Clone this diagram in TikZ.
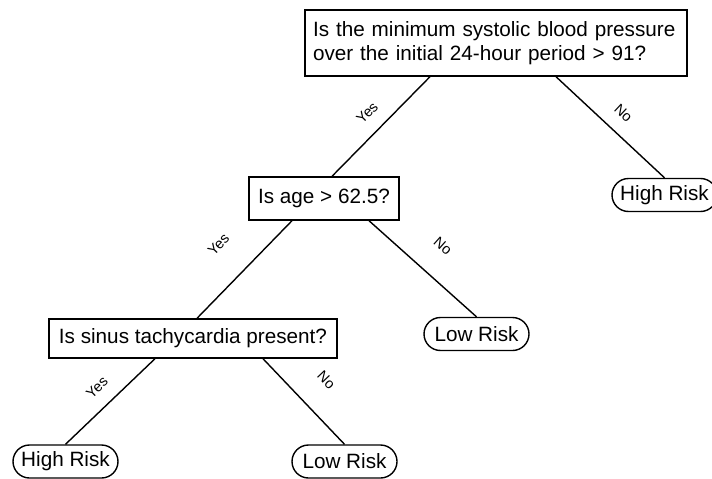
\documentclass[tikz,border=0pt]{standalone}
\usepackage{fontspec}
\setmainfont{Liberation Sans}
\usetikzlibrary{shapes.misc}
\begin{document}
\begin{tikzpicture}[x=1pt,y=-1pt,
  qbox/.style={draw, line width=1.4pt, rectangle, font=\fontsize{20.7}{24.5}\selectfont, inner sep=0pt},
  leaf/.style={draw, line width=1.4pt, rounded rectangle, minimum width=105pt, minimum height=33pt, inner sep=0pt, font=\fontsize{20.7}{24.5}\selectfont},
  edge/.style={line width=1.4pt},
  lbl/.style={font=\fontsize{14.5}{16}\selectfont, sloped, pos=0.5, above=13.5pt, inner sep=0pt}
]
\useasboundingbox (0,0) rectangle (712,479);
\clip (0,0) rectangle (712,479);
\node[qbox, text width=366pt, align=left, minimum width=382pt, minimum height=66pt, inner xsep=8pt] (root) at (496,43)
  {Is the minimum systolic blood pressure\\over the initial 24-hour period > 91?};
\node[qbox, minimum width=150pt, minimum height=43pt] (age) at (324,198.5) {Is age > 62.5?};
\node[qbox, minimum width=288pt, minimum height=39pt] (sinus) at (193,338.5) {Is sinus tachycardia present?};
\node[leaf] (hr1) at (664.5,195) {High Risk};
\node[leaf] (lr1) at (476.5,334) {Low Risk};
\node[leaf] (hr2) at (65.5,461.5) {High Risk};
\node[leaf] (lr2) at (344.5,461.5) {Low Risk};

\draw[edge] ([xshift=-66pt]root.south) -- node[lbl] {Yes} ([xshift=8pt]age.north);
\draw[edge] ([xshift=60pt]root.south) -- node[lbl] {No} (hr1.north);
\draw[edge] ([xshift=-32pt]age.south) -- node[lbl, above=17pt] {Yes} ([xshift=4pt]sinus.north);
\draw[edge] ([xshift=45pt]age.south) -- node[lbl, above=11pt] {No} (lr1.north);
\draw[edge] ([xshift=-38pt]sinus.south) -- node[lbl] {Yes} (hr2.north);
\draw[edge] ([xshift=70pt]sinus.south) -- node[lbl, above=12pt] {No} (lr2.north);
\end{tikzpicture}
\end{document}
